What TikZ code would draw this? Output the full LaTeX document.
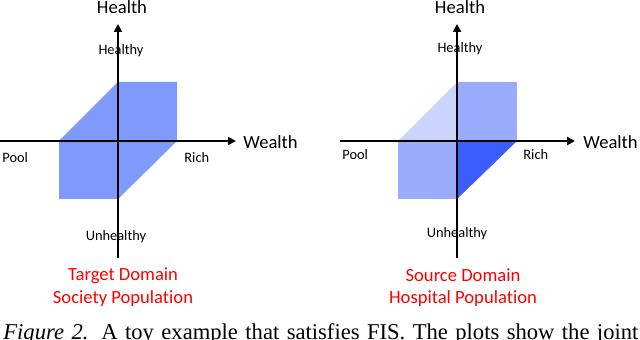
\documentclass[tikz,border=0pt]{standalone}
\usepackage{fontspec}
\setmainfont{Carlito}[Ligatures=NoCommon]
\newfontfamily\captionfont{Liberation Serif}
\usetikzlibrary{arrows.meta,positioning}
\definecolor{targetBlue}{RGB}{127,153,252}
\definecolor{paleBlue}{RGB}{201,211,252}
\definecolor{midBlue}{RGB}{155,172,252}
\definecolor{deepBlue}{RGB}{58,93,252}
\tikzset{
myAxis/.style={
	-{Triangle[length=4pt,width=4pt]},
	line width=1pt, black
}
, myTitle/.style={
	font=\fontsize{9.3}{11}\selectfont,
	inner sep=0pt
}
, myTick/.style={
	font=\fontsize{7.2}{9}\selectfont,
	inner sep=0pt
}
, myDomain/.style={
	myTitle, text=red
}
}

\begin{document}
\begin{tikzpicture}[x=0.5pt,y=-0.5pt]
	\useasboundingbox (0,0) rectangle (640,340);

	% target domain: regions
	\fill[targetBlue] (59,141) -- (118,82) -- (177,82) -- (177,141)
		-- (118,199) -- (59,199) -- cycle;
	% source domain: regions
	\fill[paleBlue] (398,141) -- (457,82) -- (457,141) -- cycle;
	\fill[midBlue] (457,82) rectangle (517,141);
	\fill[midBlue] (398,141) rectangle (457,199);
	\fill[deepBlue] (457,141) -- (517,141) -- (457,199) -- cycle;

	% axes
	\coordinate (TWealthFrom) at (0,141);
	\coordinate (TWealthTo) at (236,141);
	\coordinate (THealthFrom) at (118,258);
	\coordinate (THealthTo) at (118,24);
	\coordinate (SWealthFrom) at (340,141);
	\coordinate (SWealthTo) at (575,141);
	\coordinate (SHealthFrom) at (457,258);
	\coordinate (SHealthTo) at (457,24);
	\draw[myAxis] (TWealthFrom) -- (TWealthTo);
	\draw[myAxis] (THealthFrom) -- (THealthTo);
	\draw[myAxis] (SWealthFrom) -- (SWealthTo);
	\draw[myAxis] (SHealthFrom) -- (SHealthTo);

	% labels, target
	\node[myTitle,anchor=base] (THealth) at (122,14) {Health};
	\node[myTitle,anchor=base west] (TWealth) at (243,149) {Wealth};
	\node[myTick,anchor=base] (THealthy) at (121,55) {Healthy};
	\node[myTick,anchor=base] (TUnhealthy) at (116,241) {Unhealthy};
	\node[myTick,anchor=base west] (TPool) at (2,162.5) {Pool};
	\node[myTick,anchor=base west] (TRich) at (184,162.5) {Rich};
	\node[myDomain,anchor=base] (TDomain) at (123,281) {Target Domain};
	\node[myDomain,anchor=base] (TPopulation) at (123,304) {Society Population};

	% labels, source
	\node[myTitle,anchor=base] (SHealth) at (460,14) {Health};
	\node[myTitle,anchor=base west] (SWealth) at (583,149) {Wealth};
	\node[myTick,anchor=base] (SHealthy) at (460,52.5) {Healthy};
	\node[myTick,anchor=base] (SUnhealthy) at (457,238) {Unhealthy};
	\node[myTick,anchor=base west] (SPool) at (342,160) {Pool};
	\node[myTick,anchor=base west] (SRich) at (523,160) {Rich};
	\node[myDomain,anchor=base] (SDomain) at (463,281.5) {Source Domain};
	\node[myDomain,anchor=base] (SPopulation) at (463,304) {Hospital Population};

	% caption, justified line
	\node[inner sep=0pt,anchor=base west,font=\captionfont\fontsize{11.3}{14}\selectfont]
		(Caption) at (3,340) {\makebox[317.5pt][s]{\textit{Figure 2.} A toy example that satisfies FIS. The plots show the joint}};
\end{tikzpicture}
\end{document}
